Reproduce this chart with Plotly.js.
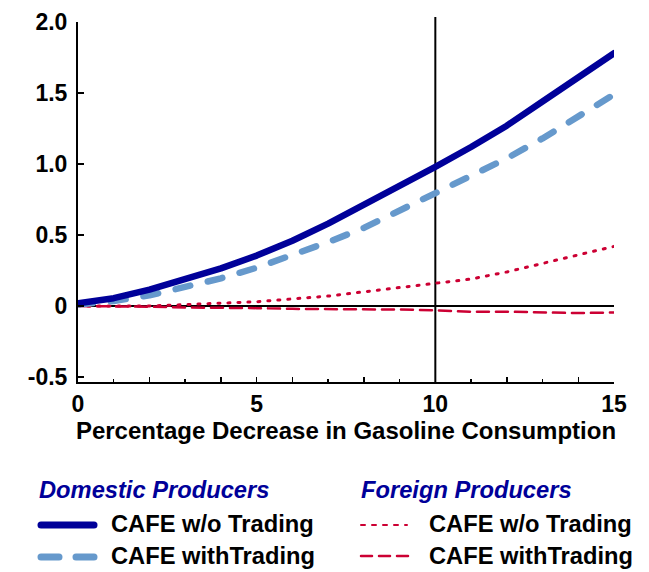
<!DOCTYPE html>
<html>
<head>
<meta charset="utf-8">
<script src="https://cdn.plot.ly/plotly-3.0.1.min.js"></script>
<style>
  html, body { margin: 0; padding: 0; background: #fff; }
  #chart { width: 649px; height: 572px; }
  path.js-line { stroke-linecap: round !important; stroke-linejoin: round !important; }
  .layer-above .shapelayer path { stroke-linecap: round !important; }
</style>
</head>
<body>
<div id="chart"></div>
<script>
// Percentage decrease in gasoline consumption
const xPct = [0, 1, 2, 3, 4, 5, 6, 7, 8, 9, 10, 11, 12, 13, 14, 15];

// Domestic producers
const domesticNoTrading   = [0.02, 0.055, 0.115, 0.185, 0.265, 0.355, 0.46, 0.58, 0.71, 0.845, 0.98, 1.12, 1.27, 1.44, 1.61, 1.78];
const domesticWithTrading = [0.01, 0.035, 0.075, 0.13, 0.195, 0.27, 0.355, 0.45, 0.55, 0.67, 0.79, 0.91, 1.04, 1.18, 1.33, 1.49];

// Foreign producers
const foreignNoTrading    = [0.00, 0.00, 0.00, 0.01, 0.02, 0.03, 0.05, 0.07, 0.10, 0.13, 0.16, 0.19, 0.24, 0.30, 0.36, 0.42];
const foreignWithTrading  = [0.00, 0.00, -0.005, -0.01, -0.01, -0.015, -0.02, -0.02, -0.02, -0.025, -0.03, -0.04, -0.04, -0.045, -0.05, -0.045];

// Axis ticks
const yTickVals = [-0.5, 0, 0.5, 1, 1.5, 2];
const yTickText = ['-0.5', '0', '0.5', '1.0', '1.5', '2.0'];
const xTickVals = [0, 2, 4, 5, 6, 8, 10, 12, 14, 15];
const xTickText = ['0', '', '', '5', '', '', '10', '', '', '15'];

// Legend text
const groupTitles = ['Domestic Producers', 'Foreign Producers'];
const seriesNames = ['CAFE w/o Trading', 'CAFE withTrading'];

const NAVY = '#000099';
const LIGHT = '#6699CC';
const RED = '#CC0033';
const FONT = 'Liberation Sans, Arial, Helvetica, sans-serif';

const traces = [
  { x: xPct, y: foreignWithTrading, mode: 'lines', line: { color: RED, width: 2.5, dash: '12px,7px' }, showlegend: false, hoverinfo: 'skip' },
  { x: xPct, y: foreignNoTrading, mode: 'lines', line: { color: RED, width: 3, dash: '2px,8px' }, showlegend: false, hoverinfo: 'skip' },
  { x: xPct, y: domesticWithTrading, mode: 'lines', line: { color: LIGHT, width: 6.5, dash: '15px,18px' }, showlegend: false, hoverinfo: 'skip' },
  { x: xPct, y: domesticNoTrading, mode: 'lines', line: { color: NAVY, width: 6.5 }, showlegend: false, hoverinfo: 'skip' }
];

// plot area in pixels: x 78..614, y 22..382
const pl = 78, pw = 536, pt = 22, ph = 360;
const px = v => (v - pl) / pw;
const py = v => (pt + ph - v) / ph;

const shapes = [
  { type: 'line', xref: 'x', yref: 'paper', x0: 10, x1: 10, y0: 0, y1: 1.014, line: { color: '#000', width: 2 }, layer: 'below' },
  // legend samples
  { type: 'line', xref: 'paper', yref: 'paper', x0: px(41), x1: px(94), y0: py(525), y1: py(525), line: { color: NAVY, width: 7 } },
  { type: 'line', xref: 'paper', yref: 'paper', x0: px(41), x1: px(94), y0: py(557), y1: py(557), line: { color: LIGHT, width: 7, dash: '18px,17px' } },
  { type: 'line', xref: 'paper', yref: 'paper', x0: px(361), x1: px(407), y0: py(525), y1: py(525), line: { color: RED, width: 2, dash: '4px,7px' } },
  { type: 'line', xref: 'paper', yref: 'paper', x0: px(361), x1: px(409), y0: py(556), y1: py(556), line: { color: RED, width: 2.5, dash: '11px,7px' } }
];

const hdrFont = { family: FONT, size: 23.7, color: NAVY, weight: 'bold', style: 'italic' };
const lblFont = { family: FONT, size: 23.7, color: '#000', weight: 'bold' };

const annotations = [
  { text: groupTitles[0], xref: 'paper', yref: 'paper', x: px(37), y: py(490), xanchor: 'left', yanchor: 'middle', showarrow: false, font: hdrFont },
  { text: groupTitles[1], xref: 'paper', yref: 'paper', x: px(359), y: py(490), xanchor: 'left', yanchor: 'middle', showarrow: false, font: hdrFont },
  { text: seriesNames[0], xref: 'paper', yref: 'paper', x: px(109), y: py(524), xanchor: 'left', yanchor: 'middle', showarrow: false, font: lblFont },
  { text: seriesNames[1], xref: 'paper', yref: 'paper', x: px(109), y: py(556), xanchor: 'left', yanchor: 'middle', showarrow: false, font: lblFont },
  { text: seriesNames[0], xref: 'paper', yref: 'paper', x: px(427), y: py(524), xanchor: 'left', yanchor: 'middle', showarrow: false, font: lblFont },
  { text: seriesNames[1], xref: 'paper', yref: 'paper', x: px(427), y: py(556), xanchor: 'left', yanchor: 'middle', showarrow: false, font: lblFont }
];

const layout = {
  width: 649, height: 572,
  margin: { l: pl, r: 649 - pl - pw, t: pt, b: 572 - pt - ph, pad: 0 },
  paper_bgcolor: '#fff', plot_bgcolor: '#fff',
  font: { family: FONT, size: 20, color: '#000' },
  showlegend: false,
  xaxis: {
    range: [0, 15], showgrid: false, zeroline: false,
    showline: true, linecolor: '#000', linewidth: 2,
    tickmode: 'array', tickvals: xTickVals, ticktext: xTickText,
    ticks: 'inside', ticklen: 5, tickwidth: 1.5, tickcolor: '#000',
    minor: { dtick: 1, tick0: 0, ticks: 'inside', ticklen: 3, tickwidth: 1.5, tickcolor: '#000', showgrid: false },
    tickfont: { family: FONT, size: 23, color: '#000', weight: 'bold' },
    title: { text: 'Percentage Decrease in Gasoline Consumption', font: { family: FONT, size: 24, color: '#000', weight: 'bold' }, standoff: 4 },
    fixedrange: true
  },
  yaxis: {
    range: [-0.535, 2.0], showgrid: false,
    zeroline: true, zerolinecolor: '#000', zerolinewidth: 2,
    showline: true, linecolor: '#000', linewidth: 2,
    tickmode: 'array', tickvals: yTickVals, ticktext: yTickText,
    ticks: 'inside', ticklen: 6, tickwidth: 1.5, tickcolor: '#000',
    ticklabelstandoff: 4,
    tickfont: { family: FONT, size: 23, color: '#000', weight: 'bold' },
    fixedrange: true
  },
  shapes: shapes,
  annotations: annotations
};

Plotly.newPlot('chart', traces, layout, { displayModeBar: false, staticPlot: true });
</script>
</body>
</html>
